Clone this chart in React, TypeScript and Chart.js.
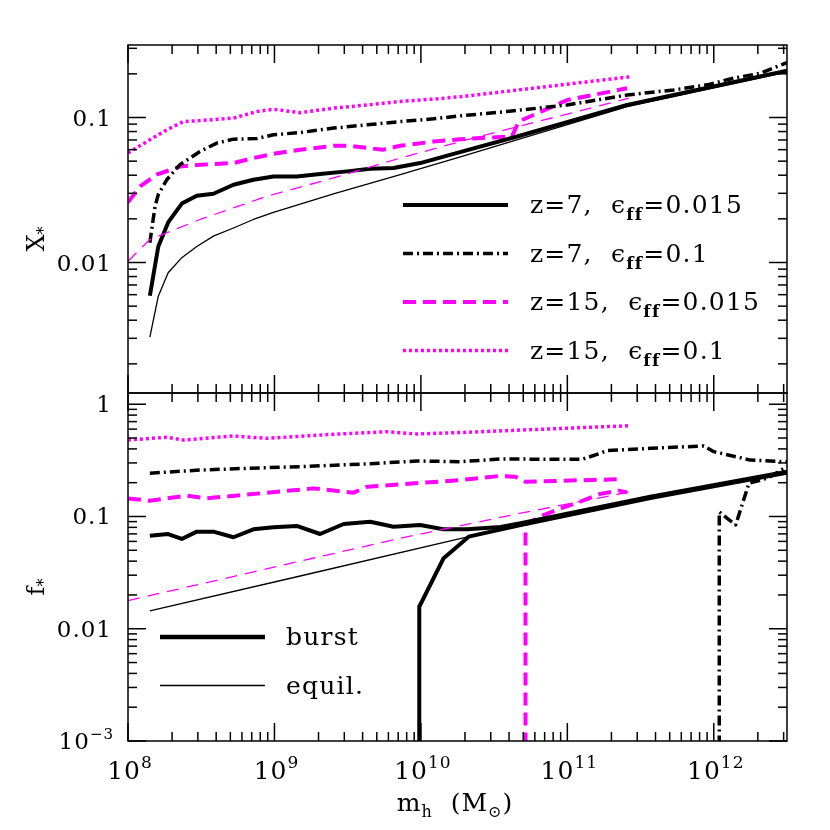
import React, { useEffect, useRef } from 'react';
import { Chart, registerables } from 'chart.js';

Chart.register(...registerables);

// ---------------- data: top panel (X_*) ----------------
const M_Z7_E015_X = [1.41e8, 1.61e8, 1.88e8, 2.33e8, 2.95e8, 3.83e8, 5.25e8, 7.18e8, 9.84e8, 1.42e9, 2.05e9, 3.13e9, 4.51e9, 6.5e9, 9.89e9, 1.58e10, 4.54e10, 2.56e11, 3.16e12];
const V_Z7_E015_X = [0.0059, 0.0129, 0.0189, 0.0255, 0.0289, 0.0298, 0.0344, 0.0372, 0.0392, 0.0392, 0.0407, 0.0425, 0.0443, 0.0448, 0.0485, 0.0553, 0.074, 0.122, 0.21];

const M_Z7_E1_X = [1.41e8, 1.53e8, 1.61e8, 1.84e8, 2.26e8, 3.10e8, 4.04e8, 5.25e8, 7.59e8, 9.84e8, 1.50e9, 2.53e9, 4.29e9, 7.23e9, 1.22e10, 1.86e10, 3.87e10, 9.95e10, 2.57e11, 5.33e11, 9.02e11, 1.37e12, 2.09e12, 3.16e12];
const V_Z7_E1_X = [0.0137, 0.0244, 0.0294, 0.0372, 0.0472, 0.0583, 0.0666, 0.0709, 0.0716, 0.076, 0.0788, 0.0845, 0.089, 0.0937, 0.098, 0.1026, 0.110, 0.122, 0.143, 0.155, 0.168, 0.187, 0.202, 0.239];

const M_Z15_E015_X = [1.0e8, 1.21e8, 1.57e8, 2.26e8, 3.10e8, 5.25e8, 7.18e8, 9.84e8, 1.50e9, 2.53e9, 3.29e9, 5.47e9, 7.23e9, 1.22e10, 1.86e10, 4.19e10, 4.65e10, 1.0e11, 2.56e11];
const V_Z15_E015_X = [0.026, 0.0335, 0.0403, 0.0459, 0.0472, 0.0485, 0.0525, 0.0562, 0.0599, 0.0638, 0.0638, 0.0599, 0.0638, 0.0682, 0.0709, 0.074, 0.0938, 0.132, 0.159];

const M_Z15_E1_X = [1.0e8, 1.41e8, 1.84e8, 2.39e8, 3.10e8, 5.25e8, 7.59e8, 9.84e8, 1.50e9, 2.53e9, 4.29e9, 7.23e9, 1.22e10, 1.86e10, 2.70e11];
const V_Z15_E1_X = [0.0569, 0.0702, 0.0822, 0.0937, 0.0952, 0.099, 0.110, 0.114, 0.108, 0.116, 0.122, 0.129, 0.134, 0.139, 0.191];

const M_EQ_Z7_X = [1.41e8, 1.61e8, 1.88e8, 2.33e8, 2.95e8, 3.83e8, 5.25e8, 7.18e8, 9.84e8, 2.53e9, 7.23e9, 1.86e10, 2.56e11, 3.16e12];
const V_EQ_Z7_X = [0.00306, 0.00586, 0.00849, 0.0108, 0.0129, 0.0152, 0.0173, 0.0198, 0.0222, 0.0297, 0.0403, 0.0536, 0.119, 0.206];

const M_EQ_Z15_X = [1.0e8, 1.41e8, 3.10e8, 8.87e8, 2.53e9, 7.23e9, 1.85e10, 2.63e11];
const V_EQ_Z15_X = [0.0102, 0.0144, 0.0198, 0.0286, 0.0383, 0.0525, 0.0682, 0.136];

// ---------------- data: bottom panel (f_*) ----------------
const M_Z7_E015_F = [1.41e8, 1.88e8, 2.33e8, 2.95e8, 3.83e8, 5.25e8, 7.18e8, 9.84e8, 1.42e9, 2.05e9, 2.97e9, 4.51e9, 6.5e9, 9.89e9, 1.42e10, 2.06e10, 3.5e10, 4.8e10, 3.69e11, 3.16e12];
const V_Z7_E015_F = [0.0675, 0.0698, 0.0631, 0.0733, 0.0733, 0.0653, 0.0769, 0.0801, 0.0824, 0.0698, 0.0857, 0.0899, 0.0811, 0.0841, 0.0769, 0.0769, 0.0805, 0.087, 0.150, 0.251];
const M_Z7_E015_F2 = [9.75e9, 9.75e9, 1.43e10, 2.12e10, 4.8e10, 3.69e11, 3.16e12];
const V_Z7_E015_F2 = [1e-5, 0.0157, 0.0425, 0.0661, 0.084, 0.146, 0.245];

const M_Z7_E1_F = [1.41e8, 3.10e8, 6.82e8, 1.50e9, 4.29e9, 9.4e9, 1.86e10, 3.5e10, 1.26e11, 1.68e11, 1.87e11, 3.70e11, 8.55e11, 1.0e12, 1.78e12, 3.16e12];
const V_Z7_E1_F = [0.243, 0.259, 0.269, 0.278, 0.294, 0.312, 0.308, 0.325, 0.323, 0.366, 0.386, 0.405, 0.425, 0.378, 0.318, 0.307];
const M_Z7_E1_F2 = [1.09e12, 1.09e12, 1.41e12, 1.74e12, 2.32e12, 3.16e12];
const V_Z7_E1_F2 = [1e-5, 0.110, 0.084, 0.198, 0.219, 0.278];

const M_Z15_E015_F = [1.0e8, 1.41e8, 2.52e8, 3.45e8, 1.85e9, 3.47e9, 4.29e9, 1.86e10, 3.49e10, 4.42e10, 5.17e10, 2.37e11];
const V_Z15_E015_F = [0.145, 0.138, 0.153, 0.145, 0.178, 0.163, 0.184, 0.211, 0.230, 0.226, 0.204, 0.215];
const M_Z15_E015_F2 = [5.18e10, 5.18e10, 6.9e10, 8.98e10, 1.23e11, 1.68e11, 2.24e11, 2.56e11];
const V_Z15_E015_F2 = [1e-5, 0.085, 0.103, 0.118, 0.136, 0.159, 0.170, 0.164];

const M_Z15_E1_F = [1.0e8, 1.84e8, 2.39e8, 5.25e8, 8.87e8, 2.53e9, 5.9e9, 9.4e9, 1.86e10, 2.70e11];
const V_Z15_E1_F = [0.480, 0.508, 0.480, 0.521, 0.497, 0.540, 0.569, 0.543, 0.560, 0.644];

const M_EQ_Z7_F = [1.41e8, 1.5e9, 2.12e10, 3.69e11, 3.16e12];
const V_EQ_Z7_F = [0.0144, 0.0295, 0.066, 0.148, 0.25];

const M_EQ_Z15_F = [1.0e8, 7.23e9, 4.8e10, 2.70e11];
const V_EQ_Z15_F = [0.0178, 0.064, 0.107, 0.166];

// ---------------- axes / labels ----------------
const X_MIN = 1e8;
const X_MAX = Math.pow(10, 12.5);
const Y_TOP_MIN = Math.pow(10, -2.9);
const Y_TOP_MAX = Math.pow(10, -0.5);
const Y_BOT_MIN = 1e-3;
const Y_BOT_MAX = Math.pow(10, 0.1);
const X_TICK_EXPONENTS = [8, 9, 10, 11, 12];
const Y_TOP_LABELS: [number, string][] = [[0.1, '0.1'], [0.01, '0.01']];
const Y_BOT_LABELS: [number, string][] = [[1, '1'], [0.1, '0.1'], [0.01, '0.01']];
const LEGEND_TOP = ['z=7,', 'z=7,', 'z=15,', 'z=15,'];
const LEGEND_TOP_EPS = ['=0.015', '=0.1', '=0.015', '=0.1'];
const LEGEND_BOT = ['burst', 'equil.'];

const FONT = '"DejaVu Serif", "Liberation Serif", serif';
const BLACK = '#000000';
const MAGENTA = '#ff00ff';

type Sty = { color: string; width: number; dash: number[] };
const S_BURST_Z7_E015: Sty = { color: BLACK, width: 4, dash: [] };
const S_BURST_Z7_E1: Sty = { color: BLACK, width: 3.5, dash: [10, 4, 2, 4] };
const S_BURST_Z15_E015: Sty = { color: MAGENTA, width: 4, dash: [13, 7] };
const S_BURST_Z15_E1: Sty = { color: MAGENTA, width: 3.5, dash: [3, 3] };
const S_EQ_Z7: Sty = { color: BLACK, width: 1.3, dash: [] };
const S_EQ_Z15: Sty = { color: MAGENTA, width: 1.3, dash: [12, 8] };

function pts(ms: number[], vs: number[]) {
  return ms.map((m, i) => ({ x: m, y: vs[i] }));
}

function ds(label: string, ms: number[], vs: number[], s: Sty, yAxisID: string) {
  return {
    label,
    data: pts(ms, vs),
    borderColor: s.color,
    backgroundColor: s.color,
    borderWidth: s.width,
    borderDash: s.dash,
    borderJoinStyle: 'round' as const,
    pointRadius: 0,
    fill: false,
    tension: 0,
    xAxisID: 'x',
    yAxisID,
  };
}

function logTicks(min: number, max: number) {
  const out: { v: number; major: boolean }[] = [];
  const k0 = Math.floor(Math.log10(min));
  const k1 = Math.ceil(Math.log10(max));
  for (let k = k0; k <= k1; k++) {
    for (let m = 1; m <= 9; m++) {
      const v = m * Math.pow(10, k);
      if (v >= min * (1 - 1e-9) && v <= max * (1 + 1e-9)) out.push({ v, major: m === 1 });
    }
  }
  return out;
}

type Part = { t: string; size: number; dy?: number; bold?: boolean };
function drawRich(ctx: CanvasRenderingContext2D, parts: Part[], x: number, y: number, align: 'left' | 'center' | 'right', spacing = 0) {
  (ctx as any).letterSpacing = spacing + 'px';
  const widths = parts.map((p) => {
    ctx.font = `${p.bold ? 'bold ' : ''}${p.size}px ${FONT}`;
    return ctx.measureText(p.t).width;
  });
  const total = widths.reduce((a, b) => a + b, 0);
  let cx = align === 'center' ? x - total / 2 : align === 'right' ? x - total : x;
  ctx.textAlign = 'left';
  ctx.textBaseline = 'alphabetic';
  parts.forEach((p, i) => {
    ctx.font = `${p.bold ? 'bold ' : ''}${p.size}px ${FONT}`;
    ctx.fillText(p.t, cx, y + (p.dy || 0));
    cx += widths[i];
  });
  (ctx as any).letterSpacing = '0px';
}

function strokeLine(ctx: CanvasRenderingContext2D, x1: number, y1: number, x2: number, y2: number) {
  ctx.beginPath();
  ctx.moveTo(x1, y1);
  ctx.lineTo(x2, y2);
  ctx.stroke();
}

const framePlugin = {
  id: 'framePlugin',
  afterDatasetsDraw(chart: any) {
    const ctx: CanvasRenderingContext2D = chart.ctx;
    const xs = chart.scales.x;
    const yT = chart.scales.yTop;
    const yB = chart.scales.yBot;
    const L = xs.left;
    const R = xs.right;
    ctx.save();
    ctx.strokeStyle = BLACK;
    ctx.fillStyle = BLACK;
    ctx.lineWidth = 1.5;
    ctx.setLineDash([]);
    const xt = logTicks(X_MIN, X_MAX);
    for (const ys of [yT, yB]) {
      const T = ys.top;
      const B = ys.bottom;
      ctx.strokeRect(L, T, R - L, B - T);
      for (const t of xt) {
        const px = xs.getPixelForValue(t.v);
        const len = t.major ? 18 : 9;
        strokeLine(ctx, px, T, px, T + len);
        strokeLine(ctx, px, B, px, B - len);
      }
      const yt = logTicks(ys.min, ys.max);
      for (const t of yt) {
        const py = ys.getPixelForValue(t.v);
        const len = t.major ? 18 : 9;
        strokeLine(ctx, L, py, L + len, py);
        strokeLine(ctx, R, py, R - len, py);
      }
    }

    // y tick labels
    for (const [v, s] of Y_TOP_LABELS) {
      drawRich(ctx, [{ t: s, size: 23 }], L - 16, yT.getPixelForValue(v) + 8, 'right', 1);
    }
    for (const [v, s] of Y_BOT_LABELS) {
      drawRich(ctx, [{ t: s, size: 23 }], L - 16, yB.getPixelForValue(v) + 8, 'right', 1);
    }
    drawRich(ctx, [{ t: '10', size: 23 }, { t: '\u22123', size: 15, dy: -10 }], L - 14, yB.getPixelForValue(1e-3) + 8, 'right', 1);

    // x tick labels
    for (const e of X_TICK_EXPONENTS) {
      const px = xs.getPixelForValue(Math.pow(10, e));
      drawRich(ctx, [{ t: '10', size: 25 }, { t: String(e), size: 17, dy: -11 }], px + 2, yB.bottom + 38, 'center', 1);
    }
    // x title
    drawRich(ctx, [{ t: 'm', size: 25 }, { t: 'h', size: 16, dy: 6 }, { t: '  (M', size: 25 }, { t: '\u2299', size: 16, dy: 6 }, { t: ')', size: 25 }], 455, yB.bottom + 70, 'center', 1);

    // y titles (rotated)
    const titles: [any, string][] = [[yT, 'X'], [yB, 'f']];
    for (const [ys, s] of titles) {
      ctx.save();
      ctx.translate(36, (ys.top + ys.bottom) / 2 + 20);
      ctx.rotate(-Math.PI / 2);
      drawRich(ctx, [{ t: s, size: 24 }, { t: '*', size: 16, dy: 5 }], 0, 8, 'center');
      ctx.restore();
    }

    // top legend
    const topStyles = [S_BURST_Z7_E015, S_BURST_Z7_E1, S_BURST_Z15_E015, S_BURST_Z15_E1];
    const legX1 = L + 275;
    const legX2 = L + 380;
    const legTx = L + 402;
    topStyles.forEach((s, i) => {
      const y = yT.top + 160 + i * 48.5;
      ctx.save();
      ctx.strokeStyle = s.color;
      ctx.lineWidth = s.width;
      ctx.setLineDash(s.dash);
      strokeLine(ctx, legX1, y, legX2, y);
      ctx.restore();
      ctx.fillStyle = BLACK;
      drawRich(ctx, [
        { t: LEGEND_TOP[i] + '  \u03f5', size: 25 },
        { t: 'ff', size: 17, dy: 7, bold: true },
        { t: LEGEND_TOP_EPS[i], size: 25 },
      ], legTx, y + 8, 'left', 1.2);
    });

    // bottom legend
    const botStyles = [S_BURST_Z7_E015, S_EQ_Z7];
    botStyles.forEach((s, i) => {
      const y = yB.top + 244 + i * 48.5;
      ctx.save();
      ctx.strokeStyle = s.color;
      ctx.lineWidth = s.width + (i === 0 ? 0.5 : 0);
      ctx.setLineDash(s.dash);
      strokeLine(ctx, L + 32, y, L + 137, y);
      ctx.restore();
      ctx.fillStyle = BLACK;
      drawRich(ctx, [{ t: LEGEND_BOT[i], size: 25 }], L + 158, y + 8, 'left', 1.2);
    });
    ctx.restore();
  },
};

function hiddenAxis(extra: any) {
  return {
    display: true,
    ticks: { display: false },
    grid: { display: false },
    border: { display: false },
    title: { display: false },
    ...extra,
  };
}

export default function App() {
  const ref = useRef<HTMLCanvasElement | null>(null);
  useEffect(() => {
    if (!ref.current) return;
    const datasets = [
      ds('X eq z7', M_EQ_Z7_X, V_EQ_Z7_X, S_EQ_Z7, 'yTop'),
      ds('X eq z15', M_EQ_Z15_X, V_EQ_Z15_X, S_EQ_Z15, 'yTop'),
      ds('X z7 e0.015', M_Z7_E015_X, V_Z7_E015_X, S_BURST_Z7_E015, 'yTop'),
      ds('X z7 e0.1', M_Z7_E1_X, V_Z7_E1_X, S_BURST_Z7_E1, 'yTop'),
      ds('X z15 e0.015', M_Z15_E015_X, V_Z15_E015_X, S_BURST_Z15_E015, 'yTop'),
      ds('X z15 e0.1', M_Z15_E1_X, V_Z15_E1_X, S_BURST_Z15_E1, 'yTop'),
      ds('f eq z7', M_EQ_Z7_F, V_EQ_Z7_F, S_EQ_Z7, 'yBot'),
      ds('f eq z15', M_EQ_Z15_F, V_EQ_Z15_F, S_EQ_Z15, 'yBot'),
      ds('f z7 e0.015', M_Z7_E015_F, V_Z7_E015_F, S_BURST_Z7_E015, 'yBot'),
      ds('f z7 e0.015 b', M_Z7_E015_F2, V_Z7_E015_F2, S_BURST_Z7_E015, 'yBot'),
      ds('f z7 e0.1', M_Z7_E1_F, V_Z7_E1_F, S_BURST_Z7_E1, 'yBot'),
      ds('f z7 e0.1 b', M_Z7_E1_F2, V_Z7_E1_F2, S_BURST_Z7_E1, 'yBot'),
      ds('f z15 e0.015', M_Z15_E015_F, V_Z15_E015_F, S_BURST_Z15_E015, 'yBot'),
      ds('f z15 e0.015 b', M_Z15_E015_F2, V_Z15_E015_F2, S_BURST_Z15_E015, 'yBot'),
      ds('f z15 e0.1', M_Z15_E1_F, V_Z15_E1_F, S_BURST_Z15_E1, 'yBot'),
    ];
    const chart = new Chart(ref.current, {
      type: 'line',
      data: { datasets } as any,
      options: {
        responsive: false,
        animation: false,
        devicePixelRatio: 1,
        events: [],
        layout: { padding: { left: 128, top: 45, right: 43, bottom: 89 } },
        plugins: { legend: { display: false }, tooltip: { enabled: false } },
        scales: {
          x: hiddenAxis({ type: 'logarithmic', position: 'bottom', min: X_MIN, max: X_MAX, afterFit: (s: any) => { s.height = 0; } }),
          yBot: hiddenAxis({ type: 'logarithmic', position: 'left', stack: 'panels', stackWeight: 1, min: Y_BOT_MIN, max: Y_BOT_MAX, afterFit: (s: any) => { s.width = 0; } }),
          yTop: hiddenAxis({ type: 'logarithmic', position: 'left', stack: 'panels', stackWeight: 1, min: Y_TOP_MIN, max: Y_TOP_MAX, afterFit: (s: any) => { s.width = 0; } }),
        },
      } as any,
      plugins: [framePlugin],
    });
    return () => chart.destroy();
  }, []);
  return (
    <div style={{ position: 'absolute', left: 0, top: 0, width: 830, height: 830, background: '#fff' }}>
      <canvas ref={ref} width={830} height={830} style={{ display: 'block', width: 830, height: 830 }} />
    </div>
  );
}
